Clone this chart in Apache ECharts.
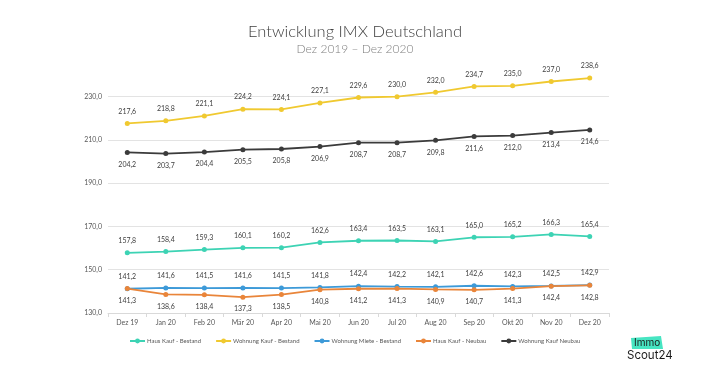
<!DOCTYPE html>
<html><head><meta charset="utf-8">
<script src="https://cdn.jsdelivr.net/npm/echarts@6/dist/echarts.min.js"></script>
<style>html,body{margin:0;padding:0;background:#fff}#c{width:710px;height:373px}</style>
</head><body><div id="c"></div>
<script>
const categories = ['Dez 19','Jan 20','Feb 20','Mär 20','Apr 20','Mai 20','Jun 20','Jul 20','Aug 20','Sep 20','Okt 20','Nov 20','Dez 20'];
const hausKaufBestand = [157.8,158.4,159.3,160.1,160.2,162.6,163.4,163.5,163.1,165.0,165.2,166.3,165.4];
const wohnungKaufBestand = [217.6,218.8,221.1,224.2,224.1,227.1,229.6,230.0,232.0,234.7,235.0,237.0,238.6];
const wohnungMieteBestand = [141.2,141.6,141.5,141.6,141.5,141.8,142.4,142.2,142.1,142.6,142.3,142.5,142.9];
const hausKaufNeubau = [141.3,138.6,138.4,137.3,138.5,140.8,141.2,141.3,140.9,140.7,141.3,142.4,142.8];
const wohnungKaufNeubau = [204.2,203.7,204.4,205.5,205.8,206.9,208.7,208.7,209.8,211.6,212.0,213.4,214.6];

const fmt = v => v.toFixed(1).replace('.', ',');
const FONT = 'Lato, "Open Sans", sans-serif';
function mk(name, data, color, pos, z) {
  return {
    name, type: 'line', data, z,
    symbol: 'circle', symbolSize: 5,
    lineStyle: { width: 1.8, color },
    itemStyle: { color },
    label: { show: true, position: pos, distance: 6, fontSize: 7, color: '#404040', fontFamily: FONT,
      formatter: p => fmt(p.value) }
  };
}
const chart = echarts.init(document.getElementById('c'));
chart.setOption({
  animation: false,
  title: {
    text: 'Entwicklung IMX Deutschland', subtext: 'Dez 2019 – Dez 2020',
    left: 'center', top: 18, itemGap: 3,
    textStyle: { fontSize: 16.5, fontWeight: 300, color: '#404040', fontFamily: FONT },
    subtextStyle: { fontSize: 12, fontWeight: 300, color: '#7f7f7f', fontFamily: FONT }
  },
  grid: { left: 108, right: 101, top: 75, bottom: 60, containLabel: false },
  xAxis: {
    type: 'category', data: categories, boundaryGap: true,
    axisLine: { lineStyle: { color: '#d9d9d9' } },
    axisTick: { show: true, lineStyle: { color: '#d9d9d9' }, length: 4 },
    axisLabel: { fontSize: 7, color: '#595959', margin: 6, fontFamily: FONT }
  },
  yAxis: {
    type: 'value', min: 130, max: 240, interval: 20,
    axisLine: { show: false }, axisTick: { show: false },
    splitLine: { lineStyle: { color: '#e3e3e3' }, showMaxLine: false },
    axisLabel: { fontSize: 7, color: '#595959', margin: 6, showMaxLabel: false, fontFamily: FONT,
      formatter: v => fmt(v) }
  },
  legend: {
    top: 333, left: 124, itemWidth: 15, itemHeight: 6, itemGap: 14,
    textStyle: { fontSize: 6, color: '#595959', fontFamily: FONT, padding: [0, 0, 0, -3] }
  },
  series: [
    mk('Haus Kauf - Bestand', hausKaufBestand, '#3dd3b4', 'top', 2),
    mk('Wohnung Kauf - Bestand', wohnungKaufBestand, '#f0c930', 'top', 2),
    mk('Wohnung Miete - Bestand', wohnungMieteBestand, '#3d9ad8', 'top', 2),
    mk('Haus Kauf - Neubau', hausKaufNeubau, '#e9853a', 'bottom', 3),
    mk('Wohnung Kauf Neubau', wohnungKaufNeubau, '#3b3b3b', 'bottom', 2)
  ],
  graphic: [
    { type: 'polygon', shape: { points: [[631,338],[661,336],[663,349],[632,349]] }, style: { fill: '#47e5c2' } },
    { type: 'text', left: 634, top: 338, style: { text: 'Immo', fontSize: 10, fill: '#1a1a1a', fontFamily: 'Inter, sans-serif' } },
    { type: 'text', left: 627, top: 350, style: { text: 'Scout24', fontSize: 11.5, fill: '#1a1a1a', fontFamily: 'Inter, sans-serif' } }
  ]
});
</script></body></html>
